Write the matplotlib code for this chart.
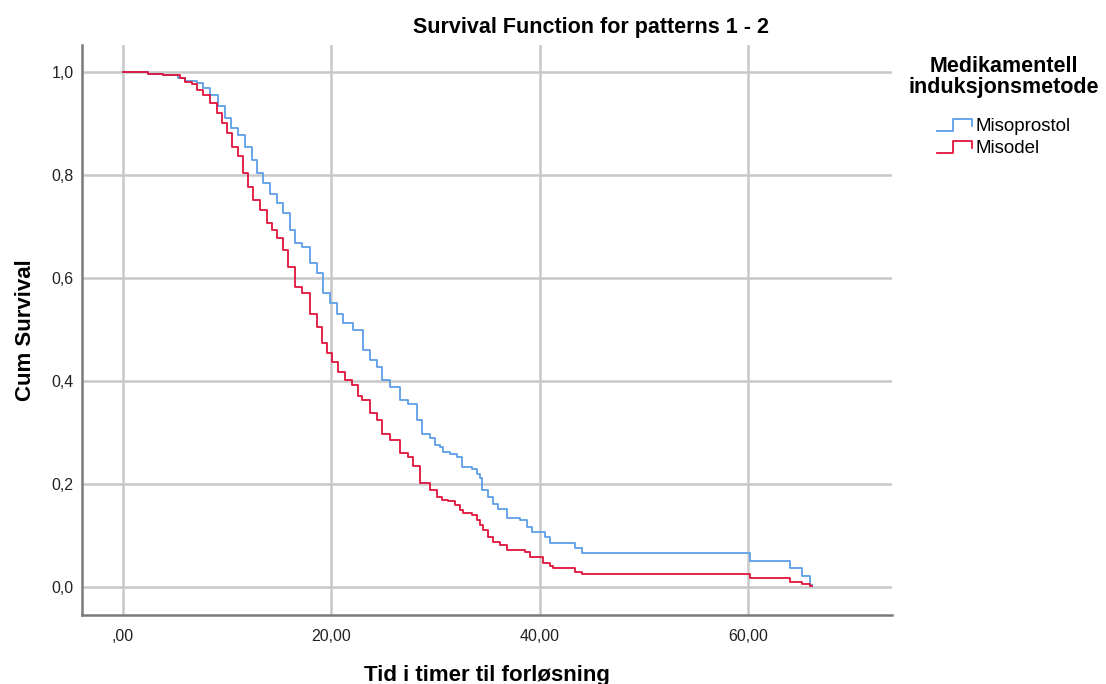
import matplotlib
matplotlib.use("Agg")
import matplotlib.pyplot as plt
from matplotlib.lines import Line2D
from matplotlib.legend_handler import HandlerBase

plt.rcParams['font.family'] = ['Liberation Sans', 'DejaVu Sans']

# ─── data ─────────────────────────────────────────────────────
miso_t = [0, 2.4, 3.8, 5.3, 5.95, 7.07, 7.7, 8.35, 9.15, 9.8, 10.4, 11.06, 11.7,
          12.35, 12.83, 13.46, 14.1, 14.74, 15.38, 16.0, 16.5, 17.14, 17.94, 18.58,
          19.21, 19.85, 20.5, 21.13, 22.1, 23.05, 23.69, 24.33, 24.81, 25.61, 26.57,
          27.37, 28.17, 28.65, 29.45, 29.93, 30.41, 30.73, 31.37, 32.01, 32.49, 33.45,
          33.93, 34.25, 34.41, 35.05, 35.53, 36.0, 36.8, 38.08, 38.72, 39.2, 40.5,
          41.0, 43.36, 44.0, 60.14, 64.0, 65.1, 65.9, 66.1]
miso_s = [1.0, 0.997, 0.994, 0.988, 0.983, 0.978, 0.968, 0.955, 0.933, 0.910, 0.891,
          0.878, 0.855, 0.829, 0.803, 0.784, 0.764, 0.745, 0.726, 0.693, 0.667, 0.660,
          0.629, 0.609, 0.570, 0.551, 0.531, 0.512, 0.499, 0.460, 0.441, 0.428, 0.402,
          0.389, 0.363, 0.356, 0.324, 0.298, 0.289, 0.276, 0.272, 0.262, 0.259, 0.253,
          0.233, 0.230, 0.220, 0.211, 0.188, 0.175, 0.162, 0.152, 0.133, 0.130, 0.117,
          0.107, 0.098, 0.085, 0.075, 0.065, 0.051, 0.036, 0.022, 0.004, 0.004]

misodel_t = [0, 2.4, 3.8, 5.47, 5.95, 6.6, 7.07, 7.7, 8.35, 8.99, 9.46, 9.94, 10.42,
             11.06, 11.54, 12.02, 12.5, 13.14, 13.78, 14.26, 14.74, 15.38, 15.86, 16.5,
             17.14, 17.94, 18.58, 19.06, 19.54, 20.02, 20.66, 21.3, 21.94, 22.57, 22.89,
             23.69, 24.33, 24.81, 25.61, 26.57, 27.37, 27.85, 28.49, 29.45, 30.09, 30.57,
             31.2, 31.85, 32.33, 32.65, 33.45, 33.93, 34.25, 34.57, 35.05, 35.53, 36.16,
             36.8, 38.56, 39.04, 40.31, 41.0, 41.3, 43.35, 44.0, 60.14, 64.0, 65.1,
             65.9, 66.1]
misodel_s = [1.0, 0.997, 0.994, 0.988, 0.981, 0.977, 0.965, 0.955, 0.939, 0.920, 0.900,
             0.881, 0.855, 0.836, 0.803, 0.777, 0.751, 0.732, 0.706, 0.693, 0.677, 0.654,
             0.622, 0.583, 0.570, 0.531, 0.505, 0.473, 0.454, 0.437, 0.418, 0.402, 0.392,
             0.370, 0.363, 0.337, 0.324, 0.298, 0.285, 0.260, 0.253, 0.234, 0.201, 0.188,
             0.175, 0.169, 0.166, 0.159, 0.150, 0.143, 0.140, 0.130, 0.120, 0.111, 0.098,
             0.088, 0.082, 0.072, 0.067, 0.059, 0.046, 0.040, 0.036, 0.030, 0.025, 0.017,
             0.010, 0.005, 0.002, 0.002]

x_ticks = [0, 20, 40, 60]
x_labels = [',00', '20,00', '40,00', '60,00']
y_ticks = [0.0, 0.2, 0.4, 0.6, 0.8, 1.0]
y_labels = ['0,0', '0,2', '0,4', '0,6', '0,8', '1,0']

BLUE = '#5d9ee8'
RED = '#e0143c'


class StepHandler(HandlerBase):
    # small step-shaped legend key like the SPSS output
    def create_artists(self, legend, orig_handle, xdescent, ydescent,
                       width, height, fontsize, trans):
        lo = height * 0.05 - ydescent
        hi = height * 0.95 - ydescent
        mid = height * 0.4 - ydescent
        x0 = -xdescent
        xs = [x0, x0 + width * 0.45, x0 + width * 0.45, x0 + width, x0 + width]
        ys = [lo, lo, hi, hi, mid]
        ln = Line2D(xs, ys, color=orig_handle.get_color(), lw=1.3, transform=trans)
        return [ln]


fig = plt.figure(figsize=(11.06, 6.84), dpi=100)
ax = fig.add_axes([0.0741, 0.1009, 0.7324, 0.8333])

ax.grid(True, color='#c8c8c8', lw=1.8)
ax.set_axisbelow(True)

l1, = ax.step(miso_t, miso_s, where='post', color=BLUE, lw=1.3, label='Misoprostol')
l2, = ax.step(misodel_t, misodel_s, where='post', color=RED, lw=1.3, label='Misodel')

ax.set_xlim(-3.93, 73.77)
ax.set_ylim(-0.0544, 1.0524)
ax.set_xticks(x_ticks)
ax.set_xticklabels(x_labels)
ax.set_yticks(y_ticks)
ax.set_yticklabels(y_labels)
ax.tick_params(length=0, labelsize=11.5, colors='#222222')
ax.tick_params(axis='y', pad=6)
ax.tick_params(axis='x', pad=10)

for s in ['top', 'right']:
    ax.spines[s].set_visible(False)
for s in ['left', 'bottom']:
    ax.spines[s].set_color('#7a7a7a')
    ax.spines[s].set_linewidth(1.8)

ax.set_xlabel('Tid i timer til forløsning', fontsize=16, fontweight='bold')
ax.xaxis.set_label_coords(0.5, -0.116)
ax.xaxis.label.set_va('baseline')
ax.set_ylabel('Cum Survival', fontsize=16, fontweight='bold', labelpad=11)

fig.text(591 / 1106, 1 - 27 / 684, 'Survival Function for patterns 1 - 2',
         ha='center', va='center', fontsize=15.5, fontweight='bold')

# legend title drawn separately so the gap to the entries matches
fig.text(1004 / 1106, 1 - 77 / 684, 'Medikamentell\ninduksjonsmetode',
         ha='center', va='center', fontsize=15.5, fontweight='bold',
         linespacing=1.05)

leg = fig.legend(handles=[l1, l2],
                 loc='upper center', bbox_to_anchor=(1004 / 1106, 1 - 107 / 684),
                 frameon=False, fontsize=13.5,
                 handler_map={Line2D: StepHandler()}, handlelength=1.87,
                 handleheight=0.7, handletextpad=0.2, labelspacing=0.25,
                 borderpad=0.1)

fig.savefig('out.png', dpi=100)
